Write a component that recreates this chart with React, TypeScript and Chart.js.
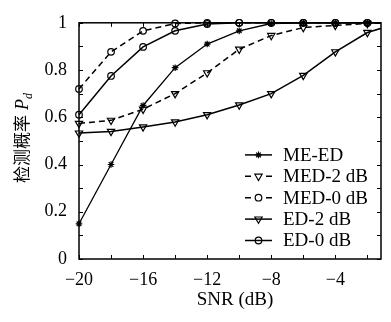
import React, { useEffect, useRef } from 'react';
import { Chart, registerables } from 'chart.js';
Chart.register(...registerables);

const snr = [-20, -18, -16, -14, -12, -10, -8, -6, -4, -2, 0];
const meEd = [0.149, 0.40, 0.65, 0.81, 0.91, 0.966, 0.997, 1, 1, 1, 1];
const med2 = [0.574, 0.587, 0.634, 0.70, 0.788, 0.888, 0.946, 0.98, 0.989, 0.997, 1];
const med0 = [0.72, 0.877, 0.966, 0.997, 1, 1, 1, 1, 1, 1, 1];
const ed2 = [0.533, 0.54, 0.559, 0.58, 0.611, 0.652, 0.70, 0.777, 0.877, 0.959, 1];
const ed0 = [0.611, 0.775, 0.898, 0.966, 0.995, 1, 1, 1, 1, 1, 1];

const seriesLabels = ['ME-ED', 'MED-2 dB', 'MED-0 dB', 'ED-2 dB', 'ED-0 dB'];
const seriesValues = [meEd, med2, med0, ed2, ed0];
const seriesMarkers = ['star', 'tri', 'circle', 'tri', 'circle'];
const seriesDashed = [false, true, true, false, false];

const xTickValues = [-20, -18, -16, -14, -12, -10, -8, -6, -4, -2];
const xLabelValues = [-20, -16, -12, -8, -4];
const yTickValues = [0, 0.1, 0.2, 0.3, 0.4, 0.5, 0.6, 0.7, 0.8, 0.9, 1];
const yLabelValues = ['0', '', '0.2', '', '0.4', '', '0.6', '', '0.8', '', '1'];
const xTitle = 'SNR (dB)';
const yTitleCjk = '检测概率';
const yTitleVar = 'P';
const yTitleSub = 'd';

const SERIF = '"Liberation Serif", "DejaVu Serif", serif';
const R = 3.3;
const RT = 4.2;

function drawMarker(ctx: CanvasRenderingContext2D, kind: string, cx: number, cy: number) {
  ctx.beginPath();
  if (kind === 'circle') {
    ctx.arc(cx, cy, R, 0, Math.PI * 2);
  } else if (kind === 'tri') {
    let rad = Math.PI;
    ctx.moveTo(cx + Math.sin(rad) * RT, cy - Math.cos(rad) * RT);
    rad += (2 * Math.PI) / 3;
    ctx.lineTo(cx + Math.sin(rad) * RT, cy - Math.cos(rad) * RT);
    rad += (2 * Math.PI) / 3;
    ctx.lineTo(cx + Math.sin(rad) * RT, cy - Math.cos(rad) * RT);
    ctx.closePath();
  } else {
    for (let i = 0; i < 4; i++) {
      const a = (i * Math.PI) / 4;
      ctx.moveTo(cx - Math.cos(a) * R, cy - Math.sin(a) * R);
      ctx.lineTo(cx + Math.cos(a) * R, cy + Math.sin(a) * R);
    }
  }
  ctx.stroke();
}

const decorPlugin = {
  id: 'decor',
  afterDraw(chart: any) {
    const { ctx, chartArea, scales } = chart;
    const { left, right, top, bottom } = chartArea;
    const x = scales.x;
    const y = scales.y;
    ctx.save();
    ctx.strokeStyle = '#000';
    ctx.fillStyle = '#000';
    ctx.lineWidth = 1.5;
    ctx.strokeRect(left, top, right - left, bottom - top);
    ctx.lineWidth = 1;
    ctx.beginPath();
    for (const v of xTickValues) {
      const px = Math.round(x.getPixelForValue(v)) + 0.5;
      ctx.moveTo(px, bottom);
      ctx.lineTo(px, bottom - 4);
      ctx.moveTo(px, top);
      ctx.lineTo(px, top + 4);
    }
    for (const v of yTickValues) {
      const py = Math.round(y.getPixelForValue(v)) + 0.5;
      ctx.moveTo(left, py);
      ctx.lineTo(left + 4, py);
      ctx.moveTo(right, py);
      ctx.lineTo(right - 4, py);
    }
    ctx.stroke();

    ctx.font = `19px ${SERIF}`;
    ctx.textAlign = 'center';
    ctx.textBaseline = 'middle';
    ctx.fillText(xTitle, (left + right) / 2 + 5, 300);

    ctx.save();
    ctx.translate(22, (top + bottom) / 2 - 3);
    ctx.rotate(-Math.PI / 2);
    ctx.textAlign = 'left';
    ctx.textBaseline = 'alphabetic';
    ctx.font = '17px "Noto Sans CJK SC"';
    const w1 = ctx.measureText(yTitleCjk).width;
    ctx.font = `italic 18px ${SERIF}`;
    const wP = ctx.measureText(yTitleVar).width;
    ctx.font = `italic 12px ${SERIF}`;
    const wd = ctx.measureText(yTitleSub).width;
    const gap = 5;
    const total = w1 + gap + wP + wd;
    let sx = -total / 2;
    ctx.font = '17px "Noto Sans CJK SC"';
    ctx.fillText(yTitleCjk, sx, 6);
    sx += w1 + gap;
    ctx.font = `italic 18px ${SERIF}`;
    ctx.fillText(yTitleVar, sx, 6);
    sx += wP;
    ctx.font = `italic 12px ${SERIF}`;
    ctx.fillText(yTitleSub, sx, 10);
    ctx.restore();

    ctx.font = `19px ${SERIF}`;
    ctx.textAlign = 'left';
    ctx.textBaseline = 'middle';
    const spacing = 21.4;
    const n = seriesLabels.length;
    for (let i = 0; i < n; i++) {
      const cy = bottom - 18.5 - (n - 1 - i) * spacing;
      const x0 = right - 136;
      const x1 = right - 109;
      const cx = (x0 + x1) / 2;
      ctx.lineWidth = 1.5;
      ctx.beginPath();
      if (seriesDashed[i]) {
        ctx.moveTo(x0, cy);
        ctx.lineTo(x0 + 6, cy);
        ctx.moveTo(x1 - 6, cy);
        ctx.lineTo(x1, cy);
      } else {
        ctx.moveTo(x0, cy);
        ctx.lineTo(x1, cy);
      }
      ctx.stroke();
      ctx.lineWidth = 1.2;
      drawMarker(ctx, seriesMarkers[i], cx, cy);
      ctx.fillText(seriesLabels[i], right - 98, cy + 1);
    }
    ctx.restore();
  },
};

export default function App() {
  const ref = useRef<HTMLCanvasElement | null>(null);
  useEffect(() => {
    document.body.style.margin = '0';
    const canvas = ref.current;
    if (!canvas) return;
    const datasets = seriesLabels.map((label, i) => ({
      label,
      data: snr.map((s, j) => ({ x: s, y: seriesValues[i][j] })),
      borderColor: '#000',
      backgroundColor: 'rgba(0,0,0,0)',
      borderWidth: i === 0 ? 1.3 : 1.5,
      borderDash: seriesDashed[i] ? [6, 4] : [],
      pointStyle: seriesMarkers[i] === 'tri' ? 'triangle' : seriesMarkers[i] === 'star' ? 'star' : 'circle',
      rotation: seriesMarkers[i] === 'tri' ? 180 : 0,
      pointRadius: seriesMarkers[i] === 'tri' ? RT : R,
      pointBorderWidth: 1.2,
      pointBorderColor: '#000',
      pointBackgroundColor: 'rgba(0,0,0,0)',
      tension: 0,
      clip: { left: 6, top: 6, right: 0, bottom: 6 },
    }));
    const chart = new Chart(canvas, {
      type: 'line',
      data: { datasets },
      options: {
        animation: false,
        responsive: false,
        devicePixelRatio: 1,
        layout: { padding: { left: 0, top: 15, right: 5, bottom: 0 } },
        plugins: { legend: { display: false }, tooltip: { enabled: false } },
        scales: {
          x: {
            type: 'linear',
            min: -20,
            max: -1.15,
            grid: { display: false, drawTicks: false },
            border: { display: false },
            ticks: {
              stepSize: 2,
              autoSkip: false,
              maxRotation: 0,
              padding: 10,
              color: '#000',
              font: { family: SERIF, size: 18 },
              callback: (v: any) => {
                const n = Number(v);
                return xLabelValues.includes(n) ? '\u2212' + Math.abs(n) : '';
              },
            },
            afterFit: (s: any) => {
              s.height = 63;
            },
          },
          y: {
            type: 'linear',
            min: 0,
            max: 1,
            grid: { display: false, drawTicks: false },
            border: { display: false },
            ticks: {
              stepSize: 0.1,
              autoSkip: false,
              padding: 12,
              color: '#000',
              font: { family: SERIF, size: 18 },
              callback: (v: any) => {
                const idx = Math.round(Number(v) * 10);
                return yLabelValues[idx] ?? '';
              },
            },
            afterFit: (s: any) => {
              s.width = 79;
            },
          },
        },
      },
      plugins: [decorPlugin],
    });
    return () => chart.destroy();
  }, []);
  return (
    <div style={{ width: 391, height: 322 }}>
      <canvas ref={ref} width={391} height={322} />
    </div>
  );
}
